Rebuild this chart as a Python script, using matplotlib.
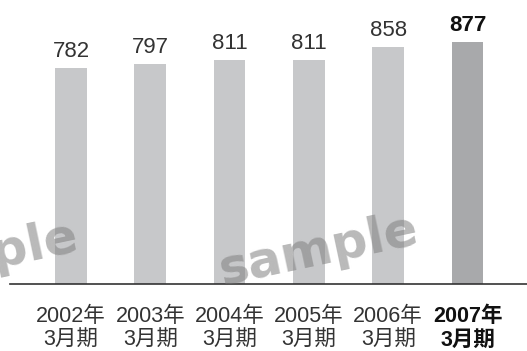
import matplotlib
matplotlib.use('Agg')
import matplotlib.pyplot as plt

# Data
years = ['2002年', '2003年', '2004年', '2005年', '2006年', '2007年']
periods = ['3月期'] * 6
values = [782, 797, 811, 811, 858, 877]

plt.rcParams['font.family'] = ['Liberation Sans', 'Noto Sans CJK JP', 'DejaVu Sans']

fig = plt.figure(figsize=(5.27, 3.51), dpi=100)
ax = fig.add_axes([10 / 527, (351 - 284) / 351, 517 / 527, 284 / 351])

xs = list(range(len(values)))
colors = ['#c7c8ca'] * (len(values) - 1) + ['#a8a9ab']
ax.bar(xs, values, width=0.40, color=colors, zorder=2)

ax.set_xlim(-0.769, 5.75)
ax.set_ylim(0, 1029)

# Value labels above bars
for x, v in zip(xs, values):
    last = x == len(values) - 1
    ax.annotate(str(v), (x, v), xytext=(0, 8), textcoords='offset points',
                ha='center', va='baseline', fontsize=16,
                color='#111111' if last else '#333333',
                fontweight='bold' if last else 'normal')

# Category labels under the axis
for x, y, p in zip(xs, years, periods):
    last = x == len(values) - 1
    kw = dict(ha='center', va='baseline', fontsize=15.5,
              color='#111111' if last else '#333333',
              fontweight='bold' if last else 'normal',
              transform=ax.get_xaxis_transform(), clip_on=False)
    ax.text(x, -38 / 284, y, **kw)
    ax.text(x, -62 / 284, p, **kw)

for s in ['top', 'right', 'left']:
    ax.spines[s].set_visible(False)
ax.spines['bottom'].set_color('#333333')
ax.spines['bottom'].set_linewidth(1.2)
ax.set_xticks([])
ax.set_yticks([])

# Watermarks
wm = dict(fontsize=36, fontweight='bold', family='DejaVu Sans', color='#808080',
          alpha=0.55, rotation=12, rotation_mode='anchor', zorder=5)
fig.text(80 / 527, 1 - 250 / 351, 'sample', ha='right', va='baseline', **wm)
fig.text(222 / 527, 1 - 285 / 351, 'sample', ha='left', va='baseline', **wm)

fig.savefig('out.png', dpi=100)
